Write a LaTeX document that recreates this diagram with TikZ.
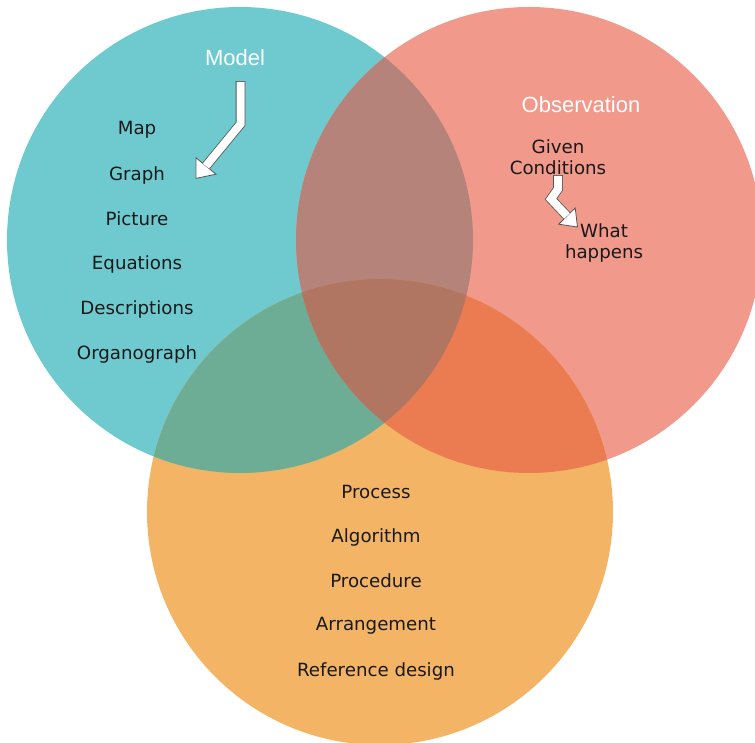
\documentclass[tikz,border=0pt]{standalone}
\usepackage{fontspec}
\setmainfont{DejaVu Sans}
\newfontfamily\arialfont{Liberation Sans}
\definecolor{cTeal}{HTML}{6FCACF}
\definecolor{cRed}{HTML}{F1998B}
\definecolor{cOrange}{HTML}{F3B466}
\definecolor{cTR}{HTML}{B5837A}
\definecolor{cTO}{HTML}{6DAD95}
\definecolor{cRO}{HTML}{EB7C52}
\definecolor{cAll}{HTML}{B17661}
\definecolor{cArrow}{HTML}{555555}
\tikzset{
  item/.style={font=\fontsize{18.2}{21}\selectfont, text=black!90, inner sep=0pt},
  title/.style={font=\arialfont\fontsize{22}{26}\selectfont, text=white, inner sep=0pt},
  arrowout/.style={draw=cArrow, line width=9.6pt, line join=miter},
  arrowin/.style={draw=white, line width=8pt, line join=miter},
  arrowhd/.style={fill=white, draw=cArrow, line width=0.8pt, line join=miter}
}
\begin{document}
\begin{tikzpicture}[x=1pt,y=-1pt]
\useasboundingbox (0,0) rectangle (755,743);
\clip (0,0) rectangle (755,743);
% circles
\coordinate (T) at (240,240);
\coordinate (R) at (529,240);
\coordinate (O) at (380,512);
\fill[cTeal] (T) circle (233);
\fill[cRed] (R) circle (233);
\fill[cOrange] (O) circle (233);
\begin{scope}
  \clip (T) circle (233);
  \fill[cTR] (R) circle (233);
  \fill[cTO] (O) circle (233);
\end{scope}
\begin{scope}
  \clip (R) circle (233);
  \fill[cRO] (O) circle (233);
  \clip (O) circle (233);
  \fill[cAll] (T) circle (233);
\end{scope}
% titles
\node[title] (model) at (235,58) {Model};
\node[title] (obs) at (581,105) {Observation};
% model items
\node[item] (map) at (137,130) {Map};
\node[item] (graph) at (137,175) {Graph};
\node[item] (pict) at (137,219) {Picture};
\node[item] (eq) at (137,264) {Equations};
\node[item] (desc) at (137,309) {Descriptions};
\node[item] (org) at (137,354) {Organograph};
% observation items
\node[item] (given) at (558,147) {Given};
\node[item] (cond) at (558,168) {Conditions};
\node[item] (what) at (604,231) {What};
\node[item] (happ) at (604,253) {happens};
% process items
\node[item] (proc) at (376,492) {Process};
\node[item] (algo) at (376,537) {Algorithm};
\node[item] (pced) at (376,581) {Procedure};
\node[item] (arr) at (376,626) {Arrangement};
\node[item] (ref) at (376,671) {Reference design};
% model arrow
\coordinate (ma0) at (240.5,82);
\coordinate (ma0b) at (240.5,81.2);
\coordinate (ma1) at (240.5,124);
\coordinate (maB) at (206,166);
\coordinate (maT) at (195.9,178.4);
\coordinate (maC1) at (216,174.2);
\coordinate (maC2) at (196,157.8);
\draw[arrowout] (ma0b) -- (ma1) -- (maB);
\draw[arrowhd] (maC1) -- (maT) -- (maC2) -- cycle;
\draw[arrowin] (ma0) -- (ma1) -- (maB);
% observation arrow
\coordinate (oa0) at (558,176);
\coordinate (oa0b) at (558,175.2);
\coordinate (oa1) at (558,189);
\coordinate (oa2) at (551,199);
\coordinate (oaB) at (567,216);
\coordinate (oaT) at (577.5,227);
\coordinate (oaC1) at (558.8,224.2);
\coordinate (oaC2) at (575.2,208.0);
\draw[arrowout] (oa0b) -- (oa1) -- (oa2) -- (oaB);
\draw[arrowhd] (oaC1) -- (oaT) -- (oaC2) -- cycle;
\draw[arrowin] (oa0) -- (oa1) -- (oa2) -- (oaB);
\end{tikzpicture}
\end{document}
